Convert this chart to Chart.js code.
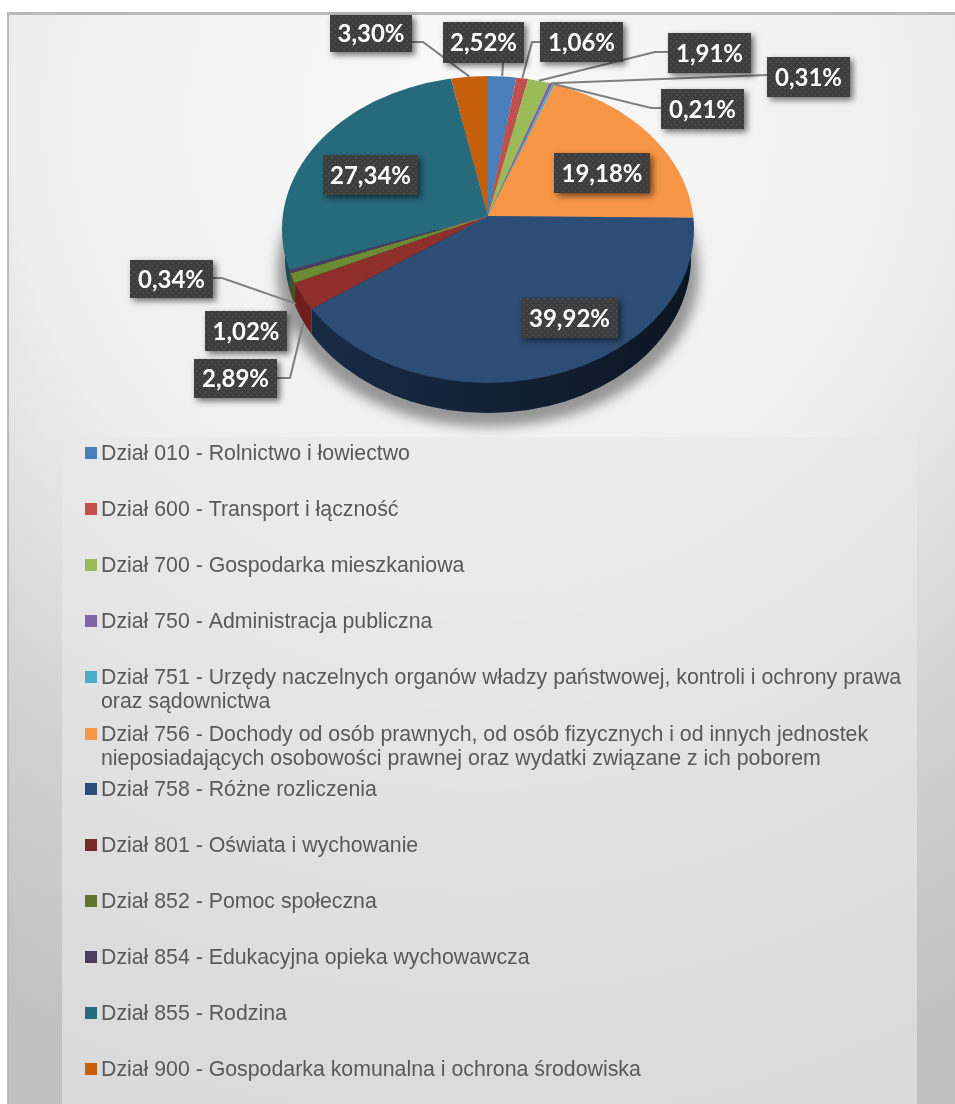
<!DOCTYPE html>
<html>
<head>
<meta charset="utf-8">
<title>Dochody</title>
<style>
  html, body { margin: 0; padding: 0; background: #fff; }
  canvas { display: block; }
</style>
<script src="https://cdn.jsdelivr.net/npm/chart.js@4"></script>
</head>
<body>
<canvas id="canvas" width="955" height="1104"></canvas>
<script>
// data
const categories = [
  ["Dział 010 - Rolnictwo i łowiectwo"],
  ["Dział 600 - Transport i łączność"],
  ["Dział 700 - Gospodarka mieszkaniowa"],
  ["Dział 750 - Administracja publiczna"],
  ["Dział 751 - Urzędy naczelnych organów władzy państwowej, kontroli i ochrony prawa", "oraz sądownictwa"],
  ["Dział 756 - Dochody od osób prawnych, od osób fizycznych i od innych jednostek", "nieposiadających osobowości prawnej oraz wydatki związane z ich poborem"],
  ["Dział 758 - Różne rozliczenia"],
  ["Dział 801 - Oświata i wychowanie"],
  ["Dział 852 - Pomoc społeczna"],
  ["Dział 854 - Edukacyjna opieka wychowawcza"],
  ["Dział 855 - Rodzina"],
  ["Dział 900 - Gospodarka komunalna i ochrona środowiska"],
];
const values = [2.52, 1.06, 1.91, 0.31, 0.21, 19.18, 39.92, 2.89, 1.02, 0.34, 27.34, 3.3];

// colours
const sliceColors = ["#4a7ebb", "#c0504d", "#9bbb59", "#8064a2", "#4bacc6", "#f79646", "#2c4d75", "#8e2f2c", "#6b8a33", "#4d3b62", "#276a7c", "#c65f0a"];
const wallColors = ["#253f5e", "#602826", "#4e5e2c", "#403251", "#265663", "#7c4b23", "#182b45", "#6e1f1c", "#3f5220", "#2e2338", "#174653", "#6a3306"];
const legendColors = ["#4a7ebb", "#c0504d", "#9bbb59", "#8064a2", "#4bacc6", "#f79646", "#2c4d75", "#772c2a", "#5f7530", "#4d3b62", "#276a7c", "#c65f0a"];

// layout of the picture
const W = 955, H = 1104;
const apex = { x: 488, y: 216 };
const topEllipse = { x: 488, y: 229.5, rx: 206, ry: 153.5 };
const wallEllipse = { x: 488, y: 257, rx: 203, ry: 156 };
const scaleUp = 1.4, scaleTop = 0.78, scaleBottom = 0.735;

// label boxes [x1, y1, x2, y2], one per slice
const labelBoxes = [
  [443, 22, 524, 63], [540, 22, 623, 62], [668, 33, 751, 73], [767, 57, 850, 97],
  [661, 89, 744, 129], [554, 153, 650, 193], [521, 298, 618, 338], [194, 359, 277, 398],
  [205, 311, 287, 351], [130, 260, 213, 298], [323, 155, 418, 195], [330, 15, 412, 52],
];
// leader lines: start on the box, then elbow, then slice edge (null = none)
const leaderPaths = [
  [[503, 63]], [[540, 42], [532, 42]], [[668, 52], [655, 52]], [[767, 75]],
  [[661, 108], [651, 108]], null, null, [[277, 378], [290, 378]],
  null, [[213, 278], [222, 278]], null, [[412, 42], [423, 42]],
];
// two leaders end on the side wall, below the rim
const leaderEndShift = { 7: [1, 27], 9: [6, 32] };
const legendRowY = [453, 509, 565, 621, 677, 734, 789, 845, 901, 957, 1013, 1069];
const legendLineHeight = 24;

// where a slice direction meets the top ellipse
function rimPoint(angle) {
  const dx = Math.cos(angle);
  const dy = Math.sin(angle) * (Math.sin(angle) < 0 ? scaleTop : scaleBottom);
  const e = topEllipse;
  const ox = (apex.x - e.x) / e.rx, oy = (apex.y - e.y) / e.ry;
  const vx = dx / e.rx, vy = dy / e.ry;
  const a = vx * vx + vy * vy, b = 2 * (ox * vx + oy * vy), c = ox * ox + oy * oy - 1;
  const t = (-b + Math.sqrt(b * b - 4 * a * c)) / (2 * a);
  return { x: apex.x + dx * t, y: apex.y + dy * t };
}

function ellipsePath(ctx, e) {
  ctx.beginPath();
  ctx.ellipse(e.x, e.y, e.rx, e.ry, 0, 0, Math.PI * 2);
}

const backgroundPlugin = {
  id: "background",
  beforeDraw(chart) {
    const ctx = chart.ctx;
    ctx.save();
    const g = ctx.createRadialGradient(480, 120, 0, 480, 120, 1020);
    g.addColorStop(0, "#fafafa");
    g.addColorStop(0.45, "#eeeeee");
    g.addColorStop(0.72, "#d2d2d2");
    g.addColorStop(1, "#c0c0c0");
    ctx.fillStyle = g;
    ctx.fillRect(7, 13, W - 7, H - 13);
    ctx.fillStyle = "rgba(232,232,232,0.65)";
    ctx.fillRect(62, 437, 855, H - 437);
    ctx.fillStyle = "#b9b9b9";
    ctx.fillRect(7, 12, W - 7, 3);
    ctx.fillRect(7, 12, 2, H - 12);
    ctx.restore();
  },
};

const piePlugin = {
  id: "tiltedPie",
  beforeDatasetsDraw(chart) {
    const ctx = chart.ctx;
    const arcs = chart.getDatasetMeta(0).data;

    // soft shadow under the pie
    ctx.save();
    ctx.filter = "blur(6px)";
    ctx.fillStyle = "rgba(100,100,100,0.65)";
    ctx.beginPath();
    ctx.ellipse(488, 272, 211, 155, 0, 0, Math.PI * 2);
    ctx.fill();
    ctx.restore();

    // side wall
    arcs.forEach((arc, i) => {
      const startTop = Math.sin(arc.startAngle) < 0, endTop = Math.sin(arc.endAngle) < 0;
      if (startTop && endTop) return;
      const p1 = rimPoint(arc.startAngle), p2 = rimPoint(arc.endAngle);
      const right = startTop ? W : p1.x;
      const left = endTop ? 0 : p2.x;
      ctx.save();
      ctx.beginPath();
      ctx.rect(left, topEllipse.y, right - left, H);
      ctx.clip();
      ctx.fillStyle = wallColors[i];
      ellipsePath(ctx, wallEllipse);
      ctx.fill();
      ctx.restore();
    });
    ctx.save();
    ellipsePath(ctx, wallEllipse);
    ctx.clip();
    const shade = ctx.createLinearGradient(320, 0, 690, 0);
    shade.addColorStop(0, "rgba(0,0,0,0)");
    shade.addColorStop(1, "rgba(0,0,0,0.5)");
    ctx.fillStyle = shade;
    ctx.fillRect(320, topEllipse.y, 380, 200);
    ctx.restore();

    // top face: upper and lower part of the arcs get a different squash
    [[0, apex.y, scaleTop], [apex.y, H, scaleBottom]].forEach(([y1, y2, sy]) => {
      ctx.save();
      ellipsePath(ctx, topEllipse);
      ctx.clip();
      ctx.beginPath();
      ctx.rect(0, y1, W, y2 - y1);
      ctx.clip();
      ctx.translate(apex.x, apex.y);
      ctx.scale(scaleUp, scaleUp * sy);
      ctx.translate(-apex.x, -apex.y);
      arcs.forEach((arc) => arc.draw(ctx));
      ctx.restore();
    });
    return false;
  },
};

const labelPlugin = {
  id: "valueLabels",
  afterDraw(chart) {
    const ctx = chart.ctx;
    const arcs = chart.getDatasetMeta(0).data;

    // dotted fill of the label boxes
    const tile = document.createElement("canvas");
    tile.width = 6;
    tile.height = 6;
    const tctx = tile.getContext("2d");
    tctx.fillStyle = "#3d3d3d";
    tctx.fillRect(0, 0, 6, 6);
    tctx.fillStyle = "#4a4a4a";
    tctx.fillRect(1, 1, 2, 2);
    tctx.fillRect(4, 4, 2, 2);
    const pattern = ctx.createPattern(tile, "repeat");

    ctx.save();
    ctx.strokeStyle = "#7f7f7f";
    ctx.lineWidth = 2;
    leaderPaths.forEach((path, i) => {
      if (!path) return;
      const arc = arcs[i];
      const end = rimPoint((arc.startAngle + arc.endAngle) / 2);
      const shift = leaderEndShift[i] || [0, 0];
      ctx.beginPath();
      path.forEach((p, k) => (k ? ctx.lineTo(p[0], p[1]) : ctx.moveTo(p[0], p[1])));
      ctx.lineTo(end.x + shift[0], end.y + shift[1]);
      ctx.stroke();
    });
    ctx.restore();

    labelBoxes.forEach((b, i) => {
      ctx.save();
      ctx.shadowColor = "rgba(0,0,0,0.55)";
      ctx.shadowBlur = 6;
      ctx.shadowOffsetX = 3;
      ctx.shadowOffsetY = 3;
      ctx.fillStyle = pattern;
      ctx.fillRect(b[0], b[1], b[2] - b[0], b[3] - b[1]);
      ctx.restore();
      ctx.save();
      ctx.fillStyle = "#ffffff";
      ctx.font = "bold 24px Lato";
      ctx.textAlign = "center";
      ctx.textBaseline = "middle";
      const text = values[i].toFixed(2).replace(".", ",") + "%";
      ctx.fillText(text, (b[0] + b[2]) / 2, (b[1] + b[3]) / 2 + 1);
      ctx.restore();
    });
  },
};

const legendPlugin = {
  id: "sideLegend",
  afterDraw(chart) {
    const ctx = chart.ctx;
    ctx.save();
    ctx.font = "21.3px 'Liberation Sans'";
    ctx.textBaseline = "middle";
    chart.data.labels.forEach((lines, i) => {
      const y = legendRowY[i];
      ctx.fillStyle = legendColors[i];
      ctx.fillRect(85, y - 6, 12, 12);
      ctx.fillStyle = "#595959";
      lines.forEach((line, k) => ctx.fillText(line, 101, y + 1 + k * legendLineHeight));
    });
    ctx.restore();
  },
};

new Chart(document.getElementById("canvas").getContext("2d"), {
  type: "pie",
  data: {
    labels: categories,
    datasets: [{ data: values, backgroundColor: sliceColors, borderWidth: 0 }],
  },
  options: {
    responsive: false,
    animation: false,
    layout: { padding: { left: apex.x - 204, right: W - apex.x - 204, top: apex.y - 204, bottom: H - apex.y - 204 } },
    plugins: { legend: { display: false }, tooltip: { enabled: false } },
  },
  plugins: [backgroundPlugin, piePlugin, labelPlugin, legendPlugin],
});
</script>
</body>
</html>
